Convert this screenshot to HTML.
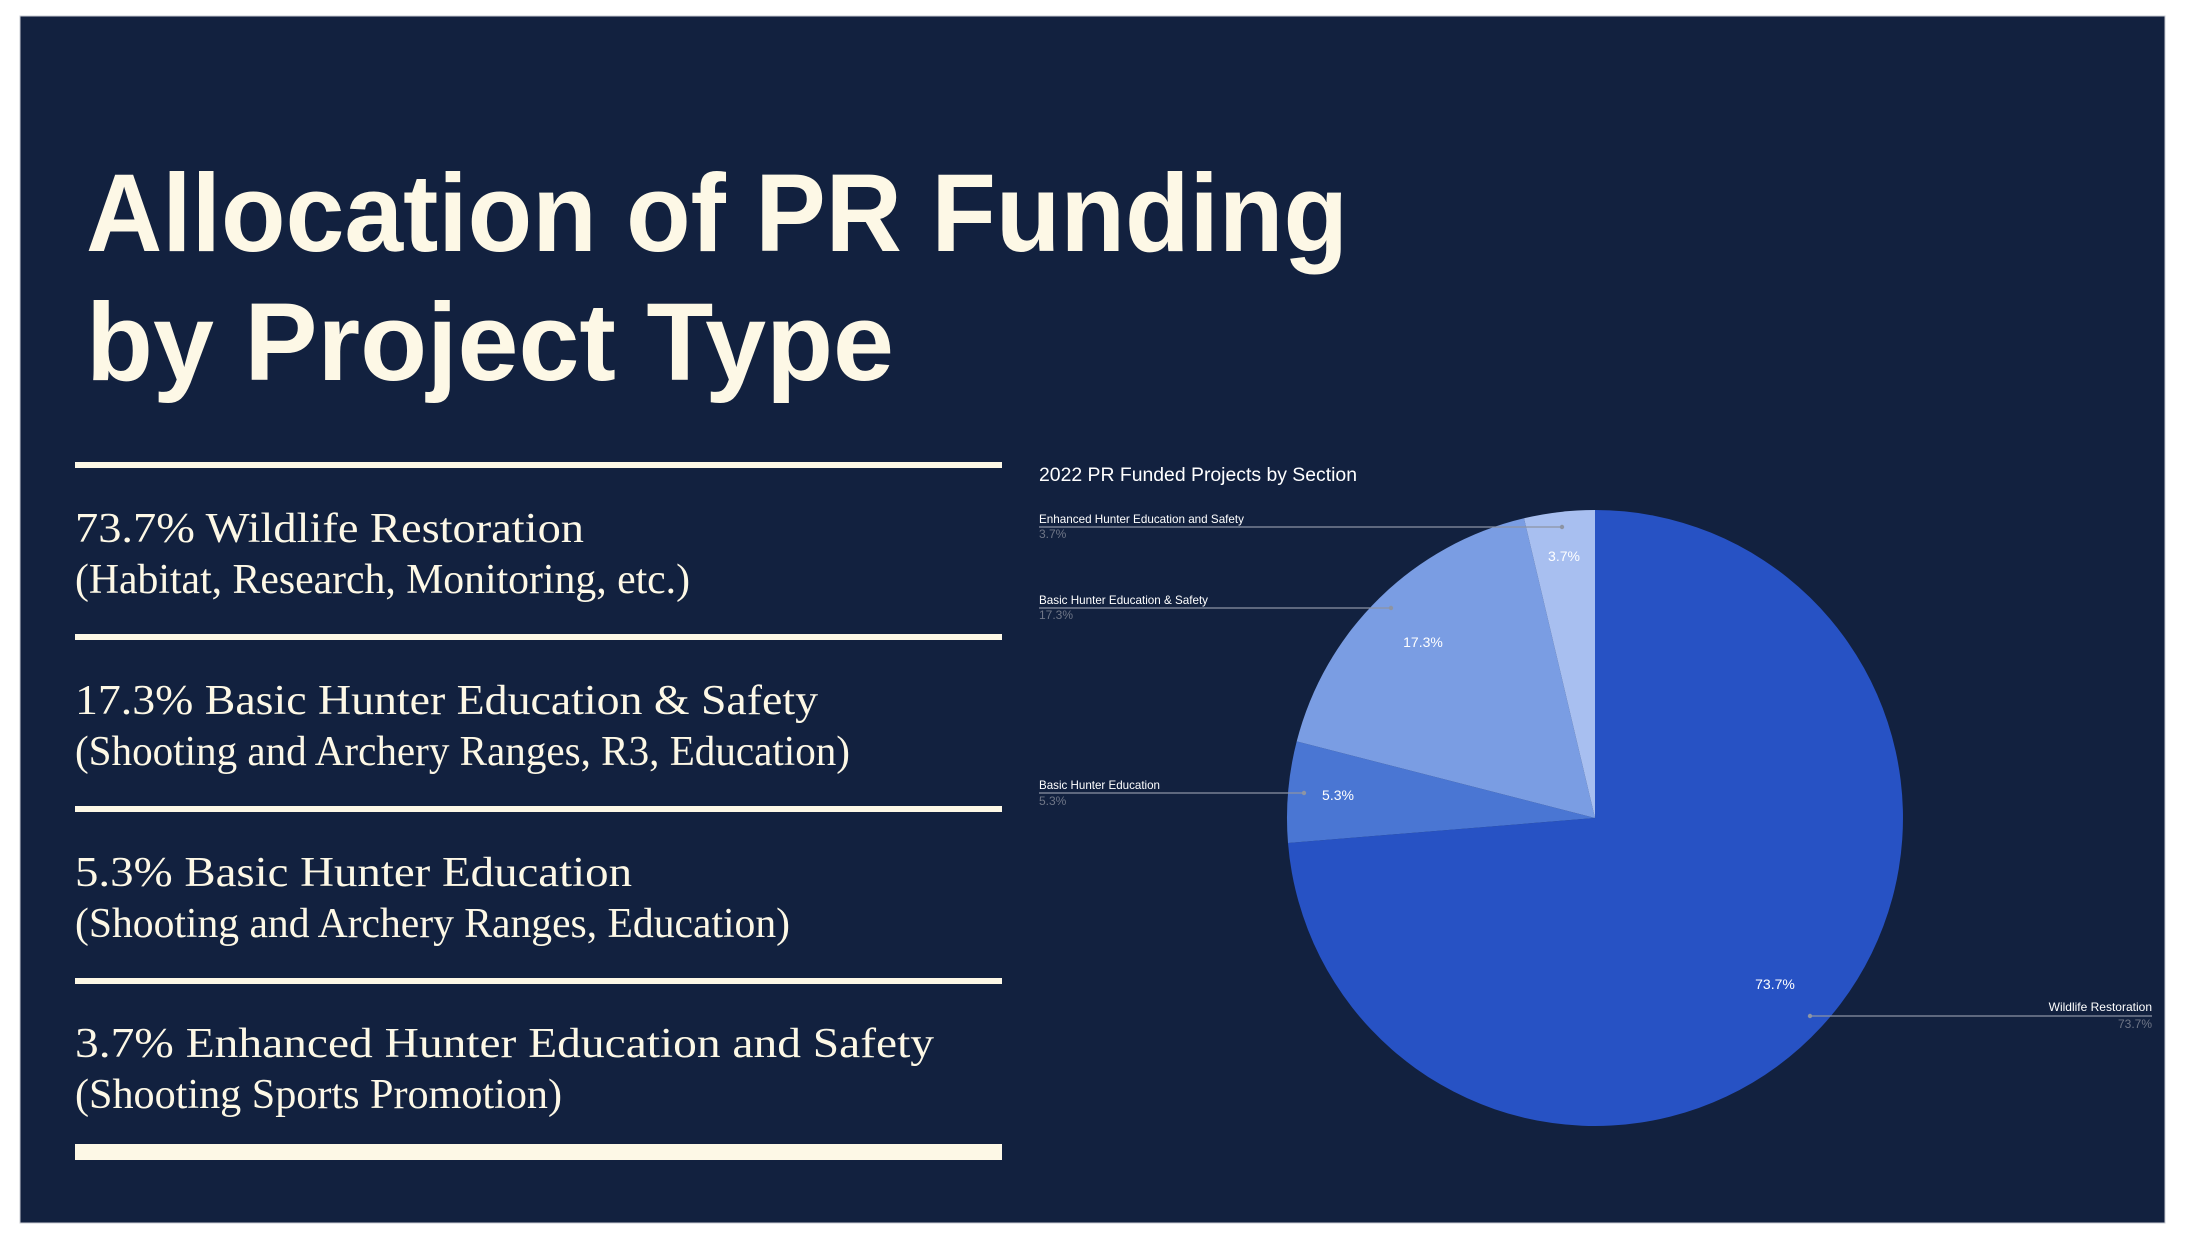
<!DOCTYPE html>
<html><head><meta charset="utf-8"><style>
html,body{margin:0;padding:0;background:#fff;width:2192px;height:1246px;overflow:hidden}
svg{display:block}
.t{font-family:"Liberation Sans",sans-serif;font-weight:bold;fill:#fdf8e6;font-size:110px}
.s{font-family:"Liberation Serif",serif;fill:#fdf8e6;font-size:42px}
.c{font-family:"Liberation Sans",sans-serif}
</style></head><body>
<svg width="2192" height="1246" viewBox="0 0 2192 1246" xmlns="http://www.w3.org/2000/svg">
<rect x="0" y="0" width="2192" height="1246" fill="#ffffff"/>
<rect x="20" y="16" width="2145" height="1207" fill="#12213f" stroke="#c9ccd3" stroke-width="1"/>
<text class="t" x="86" y="251" textLength="1262" lengthAdjust="spacingAndGlyphs">Allocation of PR Funding</text>
<text class="t" x="86" y="380" textLength="808" lengthAdjust="spacingAndGlyphs">by Project Type</text>
<g fill="#fdf8e6">
<rect x="75" y="462" width="927" height="6"/>
<rect x="75" y="634" width="927" height="6"/>
<rect x="75" y="806" width="927" height="6"/>
<rect x="75" y="978" width="927" height="6"/>
<rect x="75" y="1144" width="927" height="16"/>
</g>
<text class="s" x="75" y="542" textLength="509" lengthAdjust="spacingAndGlyphs">73.7% Wildlife Restoration</text>
<text class="s" x="75" y="593" textLength="615" lengthAdjust="spacingAndGlyphs">(Habitat, Research, Monitoring, etc.)</text>
<text class="s" x="75" y="714" textLength="743" lengthAdjust="spacingAndGlyphs">17.3% Basic Hunter Education &amp; Safety</text>
<text class="s" x="75" y="765" textLength="775" lengthAdjust="spacingAndGlyphs">(Shooting and Archery Ranges, R3, Education)</text>
<text class="s" x="75" y="886" textLength="557" lengthAdjust="spacingAndGlyphs">5.3% Basic Hunter Education</text>
<text class="s" x="75" y="937" textLength="715" lengthAdjust="spacingAndGlyphs">(Shooting and Archery Ranges, Education)</text>
<text class="s" x="75" y="1057" textLength="859" lengthAdjust="spacingAndGlyphs">3.7% Enhanced Hunter Education and Safety</text>
<text class="s" x="75" y="1108" textLength="487" lengthAdjust="spacingAndGlyphs">(Shooting Sports Promotion)</text>

<text class="c" x="1039" y="481" font-size="19.5" fill="#ffffff" textLength="318" lengthAdjust="spacingAndGlyphs">2022 PR Funded Projects by Section</text>

<path d="M1595,818 L1595,510 A308,308 0 1,1 1288,843 Z" fill="#2752c4"/>
<path d="M1595,818 L1288,843 A308,308 0 0,1 1296.7,741.4 Z" fill="#4a76d3"/>
<path d="M1595,818 L1296.7,741.4 A308,308 0 0,1 1524,518.3 Z" fill="#7a9de3"/>
<path d="M1595,818 L1524,518.3 A308,308 0 0,1 1595,510 Z" fill="#a8bff0"/>

<g class="c" font-size="14" fill="#ffffff" text-anchor="middle">
<text x="1564" y="561">3.7%</text>
<text x="1423" y="647">17.3%</text>
<text x="1338" y="800">5.3%</text>
<text x="1775" y="989">73.7%</text>
</g>

<g stroke="#8d94a3" stroke-width="1.2">
<line x1="1039" y1="527" x2="1562" y2="527"/>
<line x1="1039" y1="608" x2="1391" y2="608"/>
<line x1="1039" y1="793" x2="1304" y2="793"/>
<line x1="1810" y1="1016" x2="2152" y2="1016"/>
</g>
<g fill="#8d94a3">
<circle cx="1562" cy="527" r="2.2"/>
<circle cx="1391" cy="608" r="2.2"/>
<circle cx="1304" cy="793" r="2.2"/>
<circle cx="1810" cy="1016" r="2.2"/>
</g>
<g class="c" font-size="12" fill="#ffffff">
<text x="1039" y="523" textLength="205" lengthAdjust="spacingAndGlyphs">Enhanced Hunter Education and Safety</text>
<text x="1039" y="604" textLength="169" lengthAdjust="spacingAndGlyphs">Basic Hunter Education &amp; Safety</text>
<text x="1039" y="789" textLength="121" lengthAdjust="spacingAndGlyphs">Basic Hunter Education</text>
<text x="2152" y="1011" text-anchor="end">Wildlife Restoration</text>
</g>
<g class="c" font-size="12" fill="#6f7687">
<text x="1039" y="538">3.7%</text>
<text x="1039" y="619">17.3%</text>
<text x="1039" y="805">5.3%</text>
<text x="2152" y="1028" text-anchor="end">73.7%</text>
</g>
</svg>
</body></html>
